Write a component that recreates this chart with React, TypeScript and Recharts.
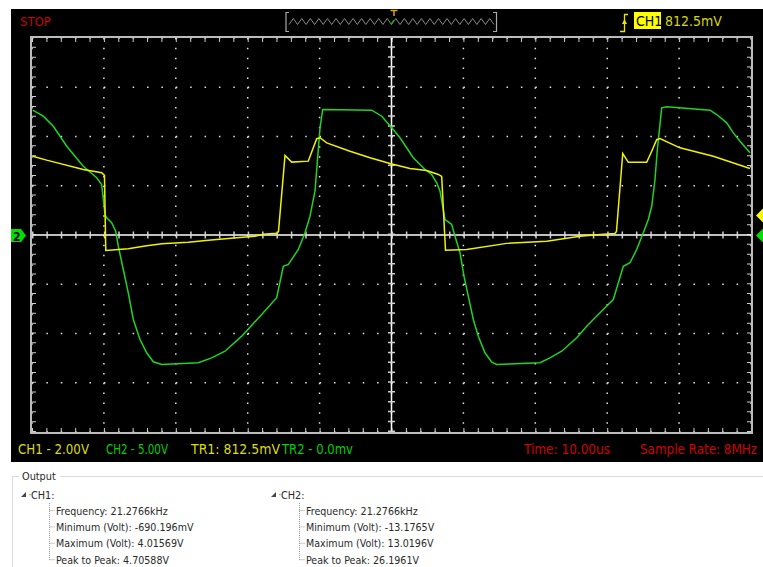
import { LineChart, Line, XAxis, YAxis, CartesianGrid, ReferenceLine } from "recharts";

// CH1 (yellow, 2 V/div) samples: time in us, volts
const CH1_T = [0.1, 2.04, 7.13, 9.69, 10.08, 10.26, 13.39, 15.72, 18.04, 21.74, 24.52, 28.47, 31.02, 32.17, 34.03, 34.28, 35.19, 36.12, 38.43, 39.12, 39.6, 40.06, 40.99, 44.23, 47.01, 49.79, 52.57, 54.9, 56.51, 56.98, 57.51, 60.46, 66.02, 71.58, 76.22, 79.0, 81.08, 81.29, 82.16, 82.94, 85.49, 86.19, 86.88, 87.34, 90.12, 94.76, 99.86];
const CH1_V = [3.2, 3.04, 2.66, 2.53, 2.42, -0.63, -0.56, -0.45, -0.36, -0.29, -0.21, -0.11, -0.05, 0.03, 0.07, 0.14, 3.23, 2.96, 3.0, 3.54, 3.91, 3.95, 3.74, 3.4, 3.14, 2.9, 2.7, 2.62, 2.46, 2.38, -0.62, -0.59, -0.34, -0.25, -0.05, 0.02, 0.06, 0.14, 3.31, 2.95, 2.95, 3.4, 3.87, 3.92, 3.54, 3.2, 2.7];

// CH2 (green, 5 V/div)
const CH2_T = [0.1, 1.57, 2.96, 4.83, 7.13, 9.0, 9.69, 10.15, 10.39, 11.08, 11.64, 12.0, 12.7, 13.39, 14.09, 15.02, 15.95, 16.87, 18.04, 23.13, 24.99, 26.84, 29.17, 31.95, 34.03, 34.95, 35.65, 37.04, 37.97, 38.67, 39.12, 39.36, 40.06, 40.43, 47.25, 48.64, 50.03, 51.18, 53.03, 54.66, 55.59, 56.29, 56.75, 57.44, 57.9, 58.37, 58.83, 59.53, 60.08, 60.68, 61.38, 62.07, 63.0, 63.94, 64.63, 70.65, 72.04, 73.67, 75.76, 77.15, 79.0, 80.85, 82.24, 83.17, 84.1, 85.02, 85.72, 86.19, 86.65, 86.97, 87.58, 88.28, 94.3, 95.23, 96.62, 97.54, 98.47, 99.86];
const CH2_V = [12.67, 12.06, 11.04, 9.01, 6.98, 5.81, 5.13, 2.08, 1.75, 1.24, 0.39, -1.14, -3.5, -5.87, -8.58, -10.61, -11.96, -12.87, -13.15, -12.97, -12.47, -11.8, -10.27, -8.07, -6.37, -3.17, -2.99, -1.47, 0.22, 1.91, 3.6, 4.45, 10.88, 12.74, 12.67, 12.06, 10.88, 9.87, 7.84, 6.65, 6.14, 5.3, 4.45, 1.57, 1.34, 1.07, -0.12, -1.81, -4.18, -6.21, -8.58, -10.27, -11.96, -12.91, -13.15, -12.97, -12.47, -11.8, -10.44, -9.26, -7.9, -6.55, -3.17, -2.82, -1.47, 0.22, 1.57, 2.92, 5.63, 8.68, 12.91, 13.01, 12.67, 12.23, 11.39, 10.37, 9.52, 8.34];

const TIME_TICKS = [0, 10, 20, 30, 40, 50, 60, 70, 80, 90, 100];
const CH2_TICKS = [-20, -15, -10, -5, 0, 5, 10, 15, 20];

const STATUS = [
  { text: "CH1 - 2.00V", x: 18, w: 71, color: "#dede00" },
  { text: "CH2 - 5.00V", x: 106, w: 62, color: "#00d000" },
  { text: "TR1: 812.5mV", x: 191, w: 89, color: "#dede00" },
  { text: "TR2 - 0.0mv", x: 282, w: 71, color: "#00d000" },
  { text: "Time: 10.00us", x: 524, w: 86, color: "#d00000" },
  { text: "Sample Rate: 8MHz", x: 640, w: 117, color: "#d00000" },
];

const CH1_STATS = ["Frequency: 21.2766kHz", "Minimum (Volt): -690.196mV", "Maximum (Volt): 4.01569V", "Peak to Peak: 4.70588V"];
const CH2_STATS = ["Frequency: 21.2766kHz", "Minimum (Volt): -13.1765V", "Maximum (Volt): 13.0196V", "Peak to Peak: 26.1961V"];

const ch1Data = CH1_T.map((t, i) => ({ t, v: CH1_V[i] }));
const ch2Data = CH2_T.map((t, i) => ({ t, v: CH2_V[i] }));

const L = 32, T = 38, W = 719, H = 394;
const UI_FONT = "'DejaVu Sans Condensed', 'DejaVu Sans', sans-serif";
const DOT_V = "1.5 8.35"; // dots along a vertical grid line (5 per division)
const DOT_H = "1.5 12.88"; // dots along a horizontal grid line

function zigzag() {
  const pts: string[] = [];
  const x0 = 289, x1 = 494, n = 24;
  const step = (x1 - x0) / n;
  for (let i = 0; i <= n; i++) {
    pts.push(`${x0 + i * step},24.5`);
    if (i < n) pts.push(`${x0 + i * step + step / 2},18.5`);
  }
  return pts.join(" ");
}

function Overlay() {
  const tree = (x: number, label: string, rows: string[]) => (
    <g>
      <polygon points={`${x},497 ${x + 5},497 ${x + 5},492`} fill="#444" />
      <text x={x + 7} y={498} fontSize={11} fill="#666">·</text>
      <text x={x + 10} y={499} fontSize={10.8} fill="#2a2a2a" fontFamily={UI_FONT}>{label}</text>
      <line x1={x + 28.5} y1={503} x2={x + 28.5} y2={560} stroke="#999" strokeDasharray="1 1" />
      {rows.map((r, i) => (
        <g key={r}>
          <line x1={x + 28.5} y1={510.5 + i * 16.4} x2={x + 34} y2={510.5 + i * 16.4} stroke="#999" strokeDasharray="1 1" />
          <text x={x + 35} y={514.5 + i * 16.4} fontSize={10.6} fill="#2a2a2a" fontFamily={UI_FONT}>{r}</text>
        </g>
      ))}
    </g>
  );
  return (
    <svg width={763} height={567} style={{ position: "absolute", left: 0, top: 0, pointerEvents: "none" }}>
      {/* header */}
      <text x={20} y={26} fontSize={13} fill="#cc0000" fontFamily={UI_FONT}>STOP</text>
      <polyline points="289,12.5 286,12.5 286,31.5 289,31.5" fill="none" stroke="#aaa" strokeWidth={1.2} />
      <polyline points="493,12.5 496.5,12.5 496.5,31.5 493,31.5" fill="none" stroke="#aaa" strokeWidth={1.2} />
      <polyline points={zigzag()} fill="none" stroke="#8c8c8c" strokeWidth={1} />
      <line x1={391} y1={24} x2={394} y2={20} stroke="#00c000" strokeWidth={1.2} />
      <line x1={390.5} y1={10.5} x2={397.5} y2={10.5} stroke="#e0a800" strokeWidth={1.5} />
      <line x1={394} y1={10.5} x2={394} y2={16} stroke="#e0a800" strokeWidth={1.5} />
      <polyline points="620,31.5 624.5,31.5 624.5,14.5 628,14.5" fill="none" stroke="#e6e600" strokeWidth={1.3} />
      <polygon points="622,24 627,24 624.5,19" fill="#e6e600" />
      <rect x={634} y={12} width={27} height={17} fill="#ffff00" />
      <text x={636} y={26} fontSize={14} fill="#000" fontFamily={UI_FONT}>CH1</text>
      <text x={665} y={26} fontSize={14} fill="#d8d800" fontFamily={UI_FONT}>812.5mV</text>
      {/* channel markers */}
      <polygon points="11,229 21,229 26,235.5 21,242 11,242" fill="#00e000" />
      <text x={13} y={240.5} fontSize={12} fontWeight="bold" fill="#000" fontFamily={UI_FONT}>2</text>
      <polygon points="756,215.5 763,208.5 770,215.5 763,222.5" fill="#ffff00" />
      <polygon points="756,235.5 763,228.5 770,235.5 763,242.5" fill="#00e000" />
      {/* status bar */}
      {STATUS.map((s) => (
        <text key={s.text} x={s.x} y={454} fontSize={14} fill={s.color} fontFamily={UI_FONT} textLength={s.w} lengthAdjust="spacingAndGlyphs">
          {s.text}
        </text>
      ))}
      {/* output group */}
      <line x1={12} y1={476.5} x2={19} y2={476.5} stroke="#dcdcdc" />
      <line x1={60} y1={476.5} x2={763} y2={476.5} stroke="#dcdcdc" />
      <line x1={12.5} y1={476.5} x2={12.5} y2={567} stroke="#dcdcdc" />
      <text x={22} y={480} fontSize={10.8} fill="#2a2a2a" fontFamily={UI_FONT}>Output</text>
      {tree(21, "CH1:", CH1_STATS)}
      {tree(271, "CH2:", CH2_STATS)}
    </svg>
  );
}

export default function App() {
  return (
    <div style={{ position: "absolute", left: 0, top: 0, width: 763, height: 567, background: "#fff", overflow: "hidden" }}>
      <div style={{ position: "absolute", left: 11, top: 9, width: 752, height: 453, background: "#000" }} />
      <div style={{ position: "absolute", left: L - 2, top: T - 2, width: W, height: H, border: "2px solid #bcbcbc" }} />
      <div style={{ position: "absolute", left: L, top: T }}>
        <LineChart width={W} height={H} margin={{ top: 0, right: 0, bottom: 0, left: 0 }}>
          <XAxis dataKey="t" type="number" domain={[0, 100]} ticks={TIME_TICKS} hide allowDataOverflow />
          <YAxis yAxisId="ch1" type="number" domain={[-8, 8]} hide allowDataOverflow />
          <YAxis yAxisId="ch2" type="number" domain={[-20, 20]} ticks={CH2_TICKS} hide allowDataOverflow />
          <CartesianGrid yAxisId="ch2" horizontal={false} stroke="#e4e4e4" strokeWidth={1.5} strokeDasharray={DOT_V} />
          <CartesianGrid yAxisId="ch2" vertical={false} stroke="#e4e4e4" strokeWidth={1.5} strokeDasharray={DOT_H} />
          <ReferenceLine yAxisId="ch2" x={0} stroke="#cfcfcf" strokeWidth={8} strokeDasharray="1 8.85" ifOverflow="hidden" />
          <ReferenceLine yAxisId="ch2" x={100} stroke="#cfcfcf" strokeWidth={8} strokeDasharray="1 8.85" ifOverflow="hidden" />
          <ReferenceLine yAxisId="ch2" y={20} stroke="#cfcfcf" strokeWidth={8} strokeDasharray="1 13.38" ifOverflow="hidden" />
          <ReferenceLine yAxisId="ch2" y={-20} stroke="#cfcfcf" strokeWidth={8} strokeDasharray="1 13.38" ifOverflow="hidden" />
          <ReferenceLine yAxisId="ch2" x={50} stroke="#ffffff" strokeWidth={1.5} />
          <ReferenceLine yAxisId="ch2" y={0} stroke="#ffffff" strokeWidth={1.5} />
          <ReferenceLine yAxisId="ch2" x={50} stroke="#cfcfcf" strokeWidth={7} strokeDasharray="1.5 8.35" />
          <ReferenceLine yAxisId="ch2" y={0} stroke="#cfcfcf" strokeWidth={7} strokeDasharray="1.5 12.88" />
          <Line yAxisId="ch2" data={ch2Data} dataKey="v" type="linear" dot={false} stroke="#22d322" strokeWidth={1.5} isAnimationActive={false} />
          <Line yAxisId="ch1" data={ch1Data} dataKey="v" type="linear" dot={false} stroke="#f2f200" strokeWidth={1.5} isAnimationActive={false} />
        </LineChart>
      </div>
      <Overlay />
    </div>
  );
}
